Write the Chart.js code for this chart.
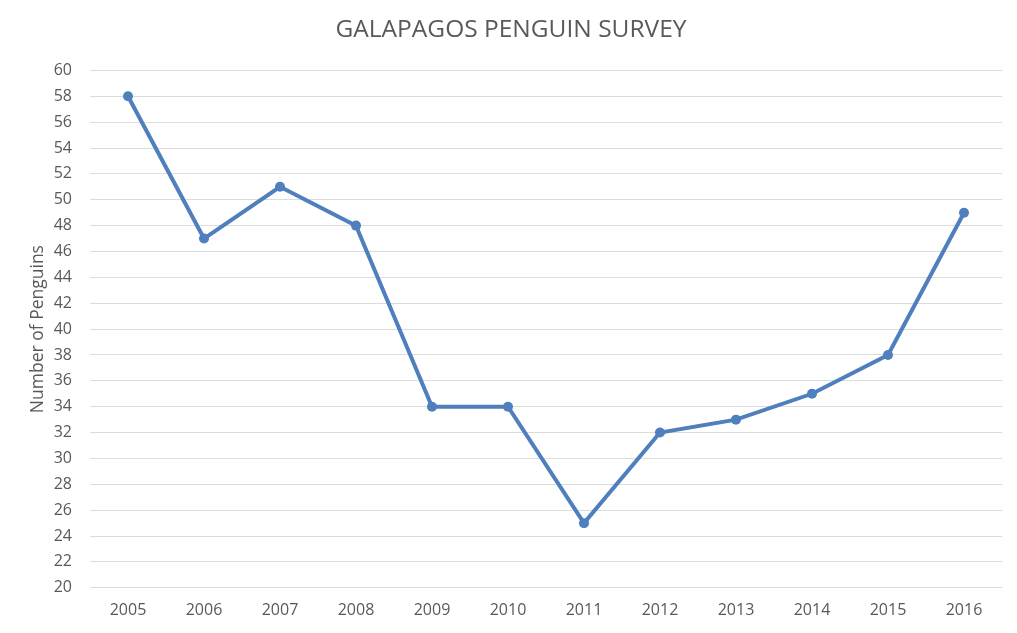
<!DOCTYPE html>
<html>
<head>
<meta charset="utf-8">
<script src="https://cdn.jsdelivr.net/npm/chart.js@4"></script>
<style>
  html, body { margin: 0; padding: 0; background: #ffffff; }
  #contenedor { width: 1017px; height: 633px; }
</style>
</head>
<body>
<div id="contenedor"><canvas id="grafica"></canvas></div>
<script>
/* Datos del censo */
const anios = ['2005', '2006', '2007', '2008', '2009', '2010', '2011', '2012', '2013', '2014', '2015', '2016'];
const pinguinos = [58, 47, 51, 48, 34, 34, 25, 32, 33, 35, 38, 49];

const tituloGrafica = 'GALAPAGOS PENGUIN SURVEY';
const tituloEjeY = 'Number of Penguins';

const colorTexto = '#595959';
const colorLinea = '#4f7fbd';
const fuente = "'Open Sans', sans-serif";

let ctx = document.getElementById('grafica').getContext('2d');
let grafica = new Chart(ctx, {
    type: 'line',
    data: {
        labels: anios,
        datasets: [{
            label: 'Penguins',
            data: pinguinos,
            yAxisID: 'y',
            borderColor: colorLinea,
            backgroundColor: colorLinea,
            borderWidth: 4,
            pointRadius: 5,
            pointBorderWidth: 0,
            pointBackgroundColor: colorLinea,
            fill: false,
            tension: 0
        }]
    },
    options: {
        responsive: true,
        maintainAspectRatio: false,
        animation: false,
        layout: {
            padding: { top: 5, right: 0, bottom: 0, left: 5 }
        },
        plugins: {
            legend: { display: false },
            tooltip: { enabled: false },
            title: {
                display: true,
                text: tituloGrafica,
                color: colorTexto,
                font: { family: fuente, size: 24.5, weight: 'normal' },
                padding: { top: 10, bottom: 26 }
            }
        },
        scales: {
            x: {
                offset: true,
                grid: { display: false, drawTicks: false },
                border: { display: false },
                ticks: {
                    color: colorTexto,
                    font: { family: fuente, size: 16 },
                    padding: 13,
                    maxRotation: 0
                }
            },
            y: {
                min: 20,
                max: 60,
                grid: { color: '#dcdcdc', lineWidth: 1, drawTicks: false },
                border: { display: false },
                ticks: {
                    stepSize: 2,
                    color: colorTexto,
                    font: { family: fuente, size: 16 },
                    padding: 18
                },
                title: {
                    display: true,
                    text: tituloEjeY,
                    color: colorTexto,
                    font: { family: fuente, size: 17.5 },
                    padding: { top: 23, bottom: 0 }
                },
                afterFit: function(escala) {
                    escala.width = 85; // ancho fijo del eje
                }
            },
            // eje vacío para dejar el margen derecho
            margen: {
                position: 'right',
                grid: { display: false, drawTicks: false },
                border: { display: false },
                ticks: { display: false },
                afterFit: function(escala) {
                    escala.width = 15;
                }
            }
        }
    }
});
</script>
</body>
</html>
